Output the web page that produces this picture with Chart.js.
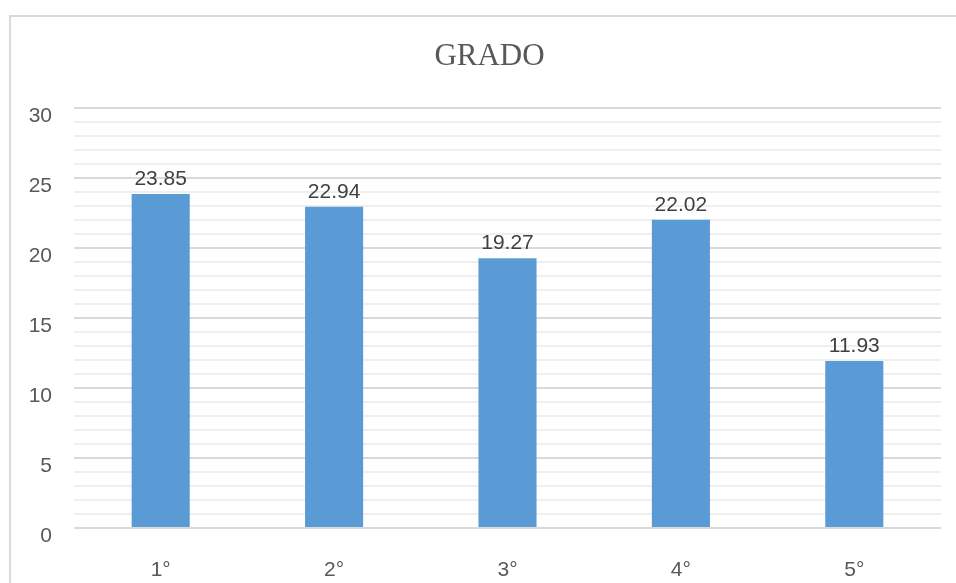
<!DOCTYPE html>
<html>
<head>
<meta charset="utf-8">
<script src="https://cdn.jsdelivr.net/npm/chart.js@4/dist/chart.umd.min.js"></script>
<style>
  html, body { margin: 0; padding: 0; background: #fff; overflow: hidden; }
  #wrap { position: relative; width: 956px; height: 583px; }
  #frame { position: absolute; left: 9px; top: 15px; width: 1100px; height: 800px;
           border: 2px solid #d9d9d9; box-sizing: border-box; }
  #chart { position: absolute; left: 0; top: 0; }
</style>
</head>
<body>
<div id="wrap">
  <div id="frame"></div>
  <canvas id="chart" width="956" height="583"></canvas>
</div>
<script>
var chartTitle = 'GRADO';
var categories = ['1°', '2°', '3°', '4°', '5°'];
var values = [23.85, 22.94, 19.27, 22.02, 11.93];
var yMin = 0;
var yMax = 30;
var majorStep = 5;

// title sits a bit left of the plot centre, like the original
var titleText = {
  id: 'titleText',
  afterDraw: function(chart) {
    var ctx = chart.ctx;
    var a = chart.chartArea;
    ctx.save();
    ctx.font = '31px "Liberation Serif", "Times New Roman", serif';
    ctx.fillStyle = '#595959';
    ctx.textAlign = 'center';
    ctx.textBaseline = 'middle';
    ctx.fillText(chartTitle, (a.left + a.right) / 2 - 18, 57);
    ctx.restore();
  }
};

var barLabels = {
  id: 'barLabels',
  afterDatasetsDraw: function(chart) {
    var ctx = chart.ctx;
    var meta = chart.getDatasetMeta(0);
    ctx.save();
    ctx.font = '21px "Liberation Sans", Arial, sans-serif';
    ctx.fillStyle = '#404040';
    ctx.textAlign = 'center';
    ctx.textBaseline = 'alphabetic';
    meta.data.forEach(function(bar, i) {
      ctx.fillText(values[i].toFixed(2), bar.x, bar.y - 9);
    });
    ctx.restore();
  }
};

function noPad(scale) {
  scale.paddingTop = 0;
  scale.paddingBottom = 0;
  scale.paddingLeft = 0;
  scale.paddingRight = 0;
}

var ctx = document.getElementById('chart').getContext('2d');
new Chart(ctx, {
  type: 'bar',
  data: {
    labels: categories,
    datasets: [{
      data: values,
      backgroundColor: '#5b9bd5',
      borderWidth: 0,
      categoryPercentage: 1,
      barPercentage: 0.335
    }]
  },
  options: {
    responsive: false,
    animation: false,
    layout: { padding: { left: 0, right: 15, top: 108, bottom: 0 } },
    plugins: {
      legend: { display: false },
      tooltip: { enabled: false },
      title: { display: false }
    },
    scales: {
      x: {
        grid: { display: false },
        border: { display: false },
        ticks: {
          color: '#595959',
          font: { family: '"Liberation Sans", Arial, sans-serif', size: 21 },
          padding: 22
        },
        afterFit: function(scale) { noPad(scale); scale.height = 55; }
      },
      y: {
        min: yMin,
        max: yMax,
        border: { display: false },
        grid: {
          drawTicks: false,
          lineWidth: 2,
          color: function(c) {
            return c.tick && c.tick.value % majorStep === 0 ? '#d9d9d9' : '#efefef';
          }
        },
        ticks: {
          stepSize: 1,
          autoSkip: false,
          color: '#595959',
          padding: 22,
          labelOffset: 8,
          font: { family: '"Liberation Sans", Arial, sans-serif', size: 21 },
          callback: function(v) { return v % majorStep === 0 ? v : ''; }
        },
        afterFit: function(scale) { noPad(scale); scale.width = 74; }
      }
    }
  },
  plugins: [barLabels, titleText]
});
</script>
</body>
</html>
